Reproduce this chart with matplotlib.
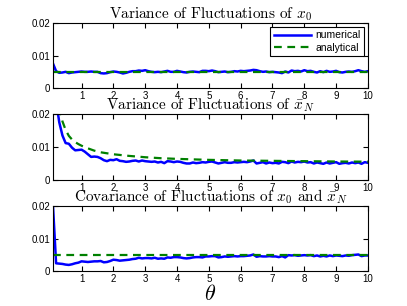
import numpy as np
import matplotlib
matplotlib.use("Agg")
import matplotlib.pyplot as plt

plt.rcParams.update({"mathtext.fontset": "cm", "font.family": "Liberation Sans",
                     "font.size": 7, "axes.linewidth": 0.8,
                     "xtick.direction": "in", "ytick.direction": "in",
                     "xtick.top": True, "ytick.right": True,
                     "xtick.major.size": 3.5, "ytick.major.size": 3.5})

# theta grid (0.1 .. 10.0)
theta = np.round(np.arange(1, 101) * 0.1, 1)

# values in units of 1e-3
var_x0_num = [7.6, 5.2, 4.7, 4.8, 5.0, 4.6, 4.8, 4.9, 5.0, 5.1,
              5.0, 5.0, 5.1, 5.0, 5.0, 4.6, 4.5, 4.6, 4.9, 5.1,
              5.0, 4.8, 4.5, 4.7, 5.0, 5.2, 5.2, 5.4, 5.3, 5.5,
              5.2, 5.0, 4.9, 5.0, 4.9, 5.1, 5.3, 5.0, 5.0, 5.3,
              5.1, 4.9, 4.8, 5.0, 5.1, 5.0, 4.9, 5.3, 5.3, 5.2,
              5.4, 5.2, 4.9, 5.0, 5.1, 4.9, 5.0, 5.2, 5.1, 5.3,
              5.2, 5.3, 5.4, 5.6, 5.5, 5.2, 5.0, 5.1, 4.9, 5.0,
              4.9, 4.8, 4.6, 5.1, 4.8, 5.4, 5.2, 5.3, 5.1, 5.5,
              5.2, 5.3, 5.0, 4.8, 5.2, 4.9, 5.3, 5.0, 5.1, 5.3,
              4.9, 4.8, 5.0, 5.1, 5.0, 5.2, 5.5, 5.2, 5.0, 5.2]
var_x0_theta_an = [0.1, 10.0]
var_x0_an = [4.9, 4.9]

var_xN_num = [40, 24, 17.5, 13.5, 11.2, 11.0, 9.8, 9.0, 9.1, 9.2,
              8.6, 7.8, 7.0, 7.1, 7.0, 6.6, 6.0, 5.7, 6.1, 6.0,
              6.3, 5.8, 5.7, 5.5, 5.6, 5.8, 5.9, 5.6, 5.9, 5.7,
              5.6, 5.5, 5.6, 5.3, 5.5, 5.1, 5.7, 5.6, 5.4, 5.6,
              5.5, 5.2, 5.0, 5.0, 5.3, 5.1, 5.2, 5.4, 5.3, 5.5,
              5.6, 5.3, 5.0, 5.2, 5.4, 5.2, 5.2, 5.4, 5.3, 5.4,
              5.5, 5.4, 5.6, 5.9, 5.0, 5.2, 5.4, 5.0, 5.3, 5.1,
              5.2, 5.0, 5.5, 5.4, 5.1, 5.6, 5.3, 5.5, 5.4, 5.6,
              5.3, 5.4, 5.0, 5.3, 5.1, 4.9, 5.3, 5.0, 5.2, 5.4,
              4.9, 5.1, 5.2, 5.0, 5.3, 5.1, 5.3, 4.9, 5.4, 5.2]
var_xN_theta_an = [0.3, 0.35, 0.4, 0.5, 0.6, 0.7, 0.8, 0.9, 1.0, 1.2, 1.4, 1.6,
                   1.8, 2.0, 2.5, 3.0, 3.5, 4.0, 5.0, 6.0, 7.0, 8.0, 9.0, 10.0]
var_xN_an = [22.0, 19.8, 17.8, 15.2, 13.4, 12.3, 11.5, 10.9, 10.4, 9.6, 8.9, 8.4,
             8.1, 7.8, 7.3, 6.9, 6.6, 6.4, 6.1, 5.9, 5.8, 5.7, 5.6, 5.55]

cov_num = [20.5, 2.4, 2.3, 2.2, 2.0, 1.9, 2.1, 2.4, 2.6, 3.0,
           2.9, 2.8, 2.9, 3.0, 3.0, 3.1, 2.7, 2.8, 3.1, 3.5,
           3.4, 3.2, 3.3, 3.4, 3.5, 3.7, 3.8, 4.1, 3.9, 4.0,
           4.0, 3.9, 4.1, 3.8, 3.9, 3.8, 4.2, 4.1, 4.3, 4.3,
           4.2, 4.0, 3.9, 4.0, 4.2, 4.3, 4.3, 4.2, 4.5, 4.5,
           4.6, 4.6, 4.2, 4.3, 4.5, 4.4, 4.5, 4.6, 4.5, 4.6,
           4.6, 4.7, 4.8, 5.1, 4.4, 4.6, 4.5, 4.5, 4.6, 4.5,
           4.5, 4.3, 4.6, 4.2, 4.9, 4.8, 4.9, 4.7, 4.8, 4.9,
           4.8, 4.9, 4.6, 4.8, 4.5, 4.7, 4.5, 4.8, 4.6, 4.8,
           4.7, 4.6, 4.8, 4.7, 4.9, 5.0, 5.1, 4.6, 4.8, 4.8]
cov_theta_an = [0.1, 10.0]
cov_an = [5.0, 5.0]

titles = [r"Variance of Fluctuations of $x_0$",
          r"Variance of Fluctuations of $\bar{x}_N$",
          r"Covariance of Fluctuations of $x_0$ and $\bar{x}_N$"]

fig = plt.figure(figsize=(4.07, 3.06), dpi=100)
rects = [[0.130, 0.712, 0.774, 0.213],
         [0.130, 0.412, 0.774, 0.215],
         [0.130, 0.114, 0.774, 0.213]]
series = [(var_x0_num, var_x0_theta_an, var_x0_an),
          (var_xN_num, var_xN_theta_an, var_xN_an),
          (cov_num, cov_theta_an, cov_an)]

axes = []
for rect, (num, th_an, an), title in zip(rects, series, titles):
    ax = fig.add_axes(rect)
    ax.plot(theta, np.array(num) * 1e-3, color="#0000ff", lw=1.8, label="numerical")
    ax.plot(th_an, np.array(an) * 1e-3, color="#008000", lw=1.6, ls=(0, (3.5, 2.5)),
            label="analytical")
    ax.set_xlim(0.1, 10)
    ax.set_ylim(0, 0.02)
    ax.set_xticks(range(1, 11))
    ax.set_yticks([0, 0.01, 0.02])
    ax.set_yticklabels(["0", "0.01", "0.02"])
    ax.tick_params(labelsize=7, pad=2)
    ax.set_title(title, family="cmr10", fontsize=11, pad=3)
    axes.append(ax)

leg = axes[0].legend(loc="upper right", fontsize=7.5, handlelength=3.6,
                     fancybox=False, framealpha=1, edgecolor="k",
                     borderpad=0.35, labelspacing=0.25, handletextpad=0.4,
                     borderaxespad=0.35)
leg.get_frame().set_linewidth(0.8)

axes[2].set_xlabel(r"$\theta$", fontsize=16, labelpad=0)

fig.savefig("out.png", dpi=100)
